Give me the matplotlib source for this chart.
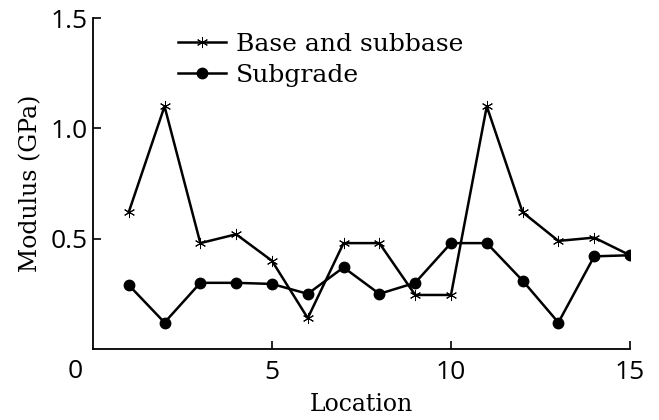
import matplotlib

matplotlib.use("Agg")
import matplotlib.pyplot as plt

# modulus back-calculated at each test location (GPa)
locations = [1, 2, 3, 4, 5, 6, 7, 8, 9, 10, 11, 12, 13, 14, 15]
base_subbase = [0.62, 1.10, 0.48, 0.52, 0.40, 0.14, 0.48, 0.48, 0.245, 0.245,
                1.10, 0.62, 0.49, 0.505, 0.425]
subgrade = [0.29, 0.12, 0.30, 0.30, 0.295, 0.25, 0.37, 0.25, 0.30, 0.48,
            0.48, 0.31, 0.12, 0.42, 0.425]

x_ticks = [5, 10, 15]
y_ticks = [0.5, 1.0, 1.5]

serif = "DejaVu Serif"
sans = "Open Sans"

fig = plt.figure(figsize=(6.59, 4.20), dpi=100)
ax = fig.add_axes([0.141, 0.169, 0.815, 0.788])

asterisk = (6, 2, 0)
ax.plot(locations, base_subbase, color="black", lw=1.8, marker=asterisk,
        ms=8, mew=0.7, label="Base and subbase")
ax.plot(locations, subgrade, color="black", lw=1.8, marker="o", ms=7.5,
        label="Subgrade")

ax.set_xlim(0, 15)
ax.set_ylim(0, 1.5)
ax.set_xticks(x_ticks)
ax.set_yticks(y_ticks)
ax.set_xticklabels([str(v) for v in x_ticks], fontfamily=sans, fontsize=19)
ax.set_yticklabels([f"{v:.1f}" for v in y_ticks], fontfamily=sans, fontsize=19)
ax.tick_params(direction="in", length=6, width=1.2)
ax.tick_params(axis="x", pad=8)
ax.tick_params(axis="y", pad=4)
for side in ("top", "right"):
    ax.spines[side].set_visible(False)
for side in ("left", "bottom"):
    ax.spines[side].set_linewidth(1.3)

# origin label sits off the corner
ax.text(-0.5, -0.043, "0", transform=ax.transData, ha="center", va="top",
        fontfamily=sans, fontsize=19, clip_on=False)

ax.set_xlabel("Location", fontfamily=serif, fontsize=17, labelpad=6)
ax.set_ylabel("Modulus (GPa)", fontfamily=serif, fontsize=17, labelpad=6)

ax.legend(loc="upper left", bbox_to_anchor=(0.14, 0.985), frameon=False,
          prop={"family": serif, "size": 18}, handlelength=1.9,
          handletextpad=0.4, labelspacing=0.3, borderaxespad=0)

fig.savefig("out.png", dpi=100)
